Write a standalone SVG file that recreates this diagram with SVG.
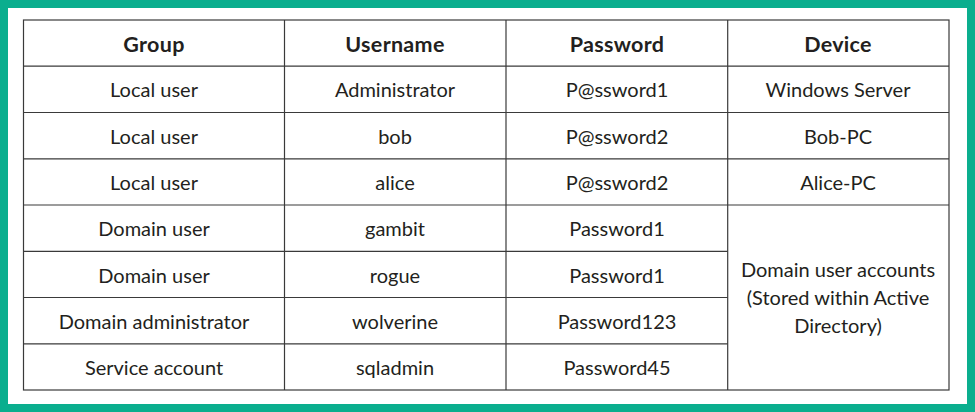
<svg xmlns="http://www.w3.org/2000/svg" width="975" height="412" viewBox="0 0 975 412">
<style>
.t{font-family:Lato,"Liberation Sans",sans-serif;font-size:20px;fill:#231f20;text-anchor:middle}
.h{font-weight:bold;font-size:21.5px;letter-spacing:0.3px}
.g{stroke:#3a3a3a;stroke-width:1.2;fill:none}
</style>
<rect x="0" y="0" width="975" height="412" fill="#0aae8e"/>
<rect x="8" y="8" width="959" height="396" fill="#ffffff"/>
<g id="grid">
<rect class="g" x="23.5" y="20" width="925.5" height="370"/>
<line class="g" x1="284.5" y1="20" x2="284.5" y2="390"/>
<line class="g" x1="506" y1="20" x2="506" y2="390"/>
<line class="g" x1="727.7" y1="20" x2="727.7" y2="390"/>
<line class="g" x1="23.5" y1="66.2" x2="949" y2="66.2"/>
<line class="g" x1="23.5" y1="112.5" x2="949" y2="112.5"/>
<line class="g" x1="23.5" y1="158.8" x2="949" y2="158.8"/>
<line class="g" x1="23.5" y1="205" x2="949" y2="205"/>
<line class="g" x1="23.5" y1="251.3" x2="727.7" y2="251.3"/>
<line class="g" x1="23.5" y1="297.5" x2="727.7" y2="297.5"/>
<line class="g" x1="23.5" y1="343.8" x2="727.7" y2="343.8"/>
</g>
<g id="header">
<text class="t h" x="154" y="51.5">Group</text>
<text class="t h" x="395" y="51.5">Username</text>
<text class="t h" x="617" y="51.5">Password</text>
<text class="t h" x="838" y="51.5">Device</text>
</g>
<g id="row1">
<text class="t" x="154" y="97.3">Local user</text>
<text class="t" x="395" y="97.3">Administrator</text>
<text class="t" x="617" y="97.3">P@ssword1</text>
<text class="t" x="838" y="97.3">Windows Server</text>
</g>
<g id="row2">
<text class="t" x="154" y="143.6">Local user</text>
<text class="t" x="395" y="143.6">bob</text>
<text class="t" x="617" y="143.6">P@ssword2</text>
<text class="t" x="838" y="143.6">Bob-PC</text>
</g>
<g id="row3">
<text class="t" x="154" y="189.9">Local user</text>
<text class="t" x="395" y="189.9">alice</text>
<text class="t" x="617" y="189.9">P@ssword2</text>
<text class="t" x="838" y="189.9">Alice-PC</text>
</g>
<g id="row4">
<text class="t" x="154" y="236.2">Domain user</text>
<text class="t" x="395" y="236.2">gambit</text>
<text class="t" x="617" y="236.2">Password1</text>
</g>
<g id="row5">
<text class="t" x="154" y="282.5">Domain user</text>
<text class="t" x="395" y="282.5">rogue</text>
<text class="t" x="617" y="282.5">Password1</text>
</g>
<g id="row6">
<text class="t" x="154" y="328.8">Domain administrator</text>
<text class="t" x="395" y="328.8">wolverine</text>
<text class="t" x="617" y="328.8">Password123</text>
</g>
<g id="row7">
<text class="t" x="154" y="375.1">Service account</text>
<text class="t" x="395" y="375.1">sqladmin</text>
<text class="t" x="617" y="375.1">Password45</text>
</g>
<g id="domain-device">
<text class="t" x="838" y="277">Domain user accounts</text>
<text class="t" x="838" y="305">(Stored within Active</text>
<text class="t" x="838" y="333">Directory)</text>
</g>
</svg>
